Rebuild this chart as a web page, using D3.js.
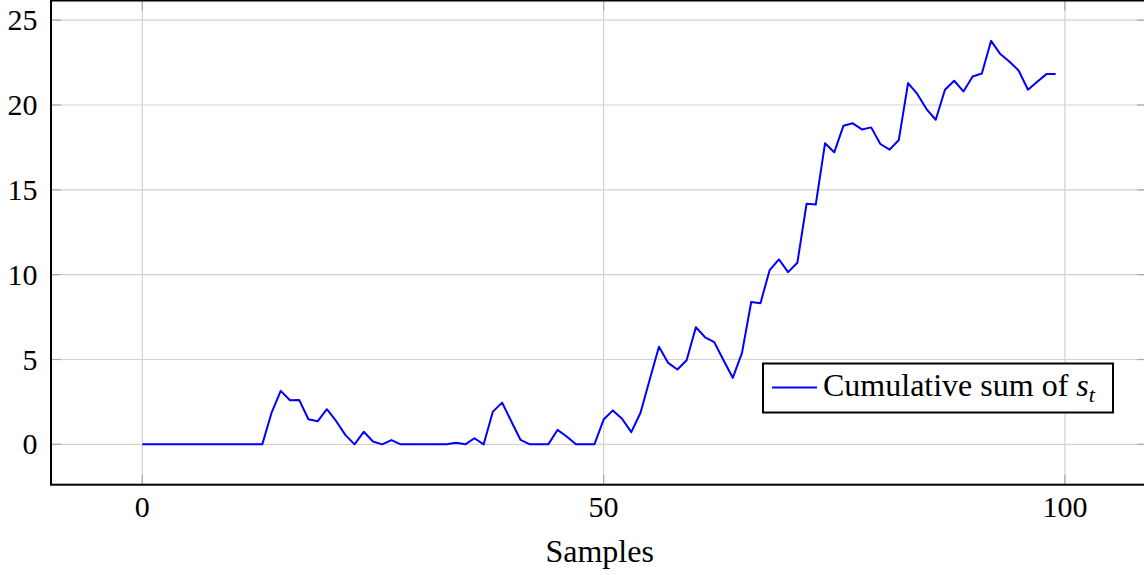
<!DOCTYPE html>
<html>
<head>
<meta charset="utf-8">
<script src="https://cdn.jsdelivr.net/npm/d3@7"></script>
<style>
  html, body { margin: 0; padding: 0; background: #fff; overflow: hidden; }
  svg { display: block; }
  text { font-family: "Liberation Serif", "Times New Roman", serif; fill: #000; }
</style>
</head>
<body>
<svg id="chart" width="1144" height="575"></svg>
<script>
// Cumulative sum s_t for samples 0..99
const samples = d3.range(0, 100);
const cumulativeSum = [
  0, 0, 0, 0, 0, 0, 0, 0, 0, 0,
  0, 0, 0, 0, 1.85, 3.15, 2.6, 2.62, 1.48, 1.36,
  2.07, 1.38, 0.56, 0, 0.74, 0.17, 0, 0.25, 0, 0,
  0, 0, 0, 0, 0.1, 0, 0.36, 0, 1.93, 2.46,
  1.35, 0.26, 0, 0, 0, 0.85, 0.46, 0, 0, 0,
  1.46, 2.0, 1.51, 0.72, 1.86, 3.82, 5.75, 4.8, 4.41, 4.96,
  6.9, 6.31, 6.02, 4.96, 3.92, 5.39, 8.39, 8.31, 10.27, 10.9,
  10.15, 10.7, 14.18, 14.14, 17.74, 17.21, 18.78, 18.92, 18.56, 18.68,
  17.7, 17.37, 17.94, 21.29, 20.65, 19.76, 19.13, 20.9, 21.43, 20.8,
  21.68, 21.86, 23.78, 23.0, 22.55, 22.02, 20.9, 21.37, 21.82, 21.82
];
const xTicks = [0, 50, 100];
const yTicks = [0, 5, 10, 15, 20, 25];
const xLabel = "Samples";
const legendLabel = "Cumulative sum of ";

const svg = d3.select("#chart");

// Plot frame (right edge lies just past the canvas)
const frame = { left: 51, right: 1147, top: 0.5, bottom: 484.7 };

// Axis limits padded by 10% of the data range on each side
const xMin = d3.min(samples), xMax = d3.max(samples);
const yMin = d3.min(cumulativeSum), yMax = d3.max(cumulativeSum);
const xPad = (xMax - xMin) * 0.1, yPad = (yMax - yMin) * 0.1;

const x = d3.scaleLinear().domain([xMin - xPad, xMax + xPad]).range([frame.left, frame.right]);
const y = d3.scaleLinear().domain([yMin - yPad, yMax + yPad]).range([frame.bottom, frame.top]);

// Grid
const grid = svg.append("g").attr("stroke", "#d2d2d2").attr("stroke-width", 1.2);
grid.selectAll(".gx").data(xTicks).join("line")
  .attr("x1", d => x(d)).attr("x2", d => x(d))
  .attr("y1", frame.top).attr("y2", frame.bottom);
grid.selectAll(".gy").data(yTicks).join("line")
  .attr("x1", frame.left).attr("x2", frame.right)
  .attr("y1", d => y(d)).attr("y2", d => y(d));

// Inward tick marks on all four sides
const tickLen = 10;
const ticks = svg.append("g").attr("stroke", "#a8a8a8").attr("stroke-width", 1.2);
xTicks.forEach(d => {
  ticks.append("line").attr("x1", x(d)).attr("x2", x(d)).attr("y1", frame.bottom).attr("y2", frame.bottom - tickLen);
  ticks.append("line").attr("x1", x(d)).attr("x2", x(d)).attr("y1", frame.top).attr("y2", frame.top + tickLen);
});
yTicks.forEach(d => {
  ticks.append("line").attr("x1", frame.left).attr("x2", frame.left + tickLen).attr("y1", y(d)).attr("y2", y(d));
  ticks.append("line").attr("x1", frame.right).attr("x2", frame.right - tickLen).attr("y1", y(d)).attr("y2", y(d));
});

// Data line
const line = d3.line().x((d, i) => x(samples[i])).y(d => y(d));
svg.append("path")
  .datum(cumulativeSum)
  .attr("fill", "none")
  .attr("stroke", "#0000ff")
  .attr("stroke-width", 2)
  .attr("stroke-linejoin", "round")
  .attr("d", line);

// Axis frame
svg.append("rect")
  .attr("x", frame.left).attr("y", frame.top)
  .attr("width", frame.right - frame.left).attr("height", frame.bottom - frame.top)
  .attr("fill", "none").attr("stroke", "#000").attr("stroke-width", 2);

// Tick labels
svg.append("g").selectAll("text").data(xTicks).join("text")
  .attr("x", d => x(d)).attr("y", 516.5)
  .attr("text-anchor", "middle")
  .attr("font-size", 30)
  .text(d => d);
svg.append("g").selectAll("text").data(yTicks).join("text")
  .attr("x", 37.5).attr("y", d => y(d) + 10)
  .attr("text-anchor", "end")
  .attr("font-size", 30)
  .text(d => d);

// Axis title
svg.append("text")
  .attr("x", (x(0) + x(100)) / 2 - 4).attr("y", 561.5)
  .attr("text-anchor", "middle")
  .attr("font-size", 32)
  .text(xLabel);

// Legend
const lg = svg.append("g");
lg.append("rect")
  .attr("x", 763).attr("y", 363.5).attr("width", 350).attr("height", 49)
  .attr("fill", "#fff").attr("stroke", "#000").attr("stroke-width", 2);
lg.append("line")
  .attr("x1", 772).attr("x2", 817).attr("y1", 387.5).attr("y2", 387.5)
  .attr("stroke", "#0000ff").attr("stroke-width", 2);
const lt = lg.append("text").attr("x", 823).attr("y", 396).attr("font-size", 32);
lt.append("tspan").text(legendLabel);
lt.append("tspan").attr("font-style", "italic").text("s");
lt.append("tspan").attr("font-style", "italic").attr("font-size", 22).attr("dy", 6).text("t");
</script>
</body>
</html>
